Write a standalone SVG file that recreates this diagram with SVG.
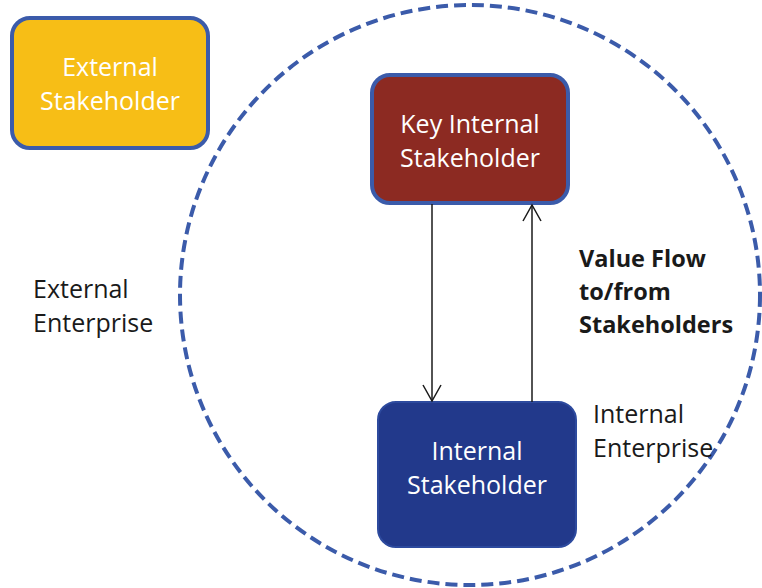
<svg xmlns="http://www.w3.org/2000/svg" width="762" height="588" viewBox="0 0 762 588">
<defs>
<style>
.box{stroke:#3B5BAA;stroke-width:4}
.wt{fill:#ffffff;font-family:"Open Sans","Noto Sans",sans-serif;font-size:25px;text-anchor:middle}
.lbl{fill:#1a1a1a;font-family:"Open Sans","Noto Sans",sans-serif;font-size:25px}
.bold{font-weight:bold;font-size:23.5px}
.conn{stroke:#1a1a1a;stroke-width:1.5;fill:none}
</style>
<marker id="arr" viewBox="0 0 20 20" refX="18" refY="10" markerWidth="20" markerHeight="20" markerUnits="userSpaceOnUse" orient="auto">
<path d="M2,1 L18,10 L2,19" fill="none" stroke="#1a1a1a" stroke-width="1.5"/>
</marker>
</defs>
<rect width="762" height="588" fill="#ffffff"/>
<g id="internal-enterprise-boundary">
<circle cx="470" cy="295" r="290" fill="none" stroke="#3B5BAA" stroke-width="4" stroke-dasharray="12 6"/>
</g>
<g id="external-stakeholder">
<rect class="box" x="12" y="18" width="196" height="130" rx="18" fill="#F7BE16"/>
<text class="wt" x="110" y="76">External</text>
<text class="wt" x="110" y="110">Stakeholder</text>
</g>
<g id="key-internal-stakeholder">
<rect class="box" x="372" y="75" width="196" height="128" rx="18" fill="#8C2A22"/>
<text class="wt" x="470" y="133">Key Internal</text>
<text class="wt" x="470" y="167">Stakeholder</text>
</g>
<g id="internal-stakeholder">
<rect x="378" y="402" width="198" height="145" rx="18" fill="#22398B" stroke="#2D4A9E" stroke-width="2"/>
<text class="wt" x="477" y="460">Internal</text>
<text class="wt" x="477" y="494">Stakeholder</text>
</g>
<g id="connectors">
<line class="conn" x1="432" y1="204" x2="432" y2="401" marker-end="url(#arr)"/>
<line class="conn" x1="532" y1="402" x2="532" y2="205" marker-end="url(#arr)"/>
</g>
<g id="labels">
<text class="lbl bold" x="579" y="267">Value Flow</text>
<text class="lbl bold" x="579" y="300">to/from</text>
<text class="lbl bold" x="579" y="333">Stakeholders</text>
<text class="lbl" x="593" y="423">Internal</text>
<text class="lbl" x="593" y="457">Enterprise</text>
<text class="lbl" x="33" y="298">External</text>
<text class="lbl" x="33" y="332">Enterprise</text>
</g>
</svg>
